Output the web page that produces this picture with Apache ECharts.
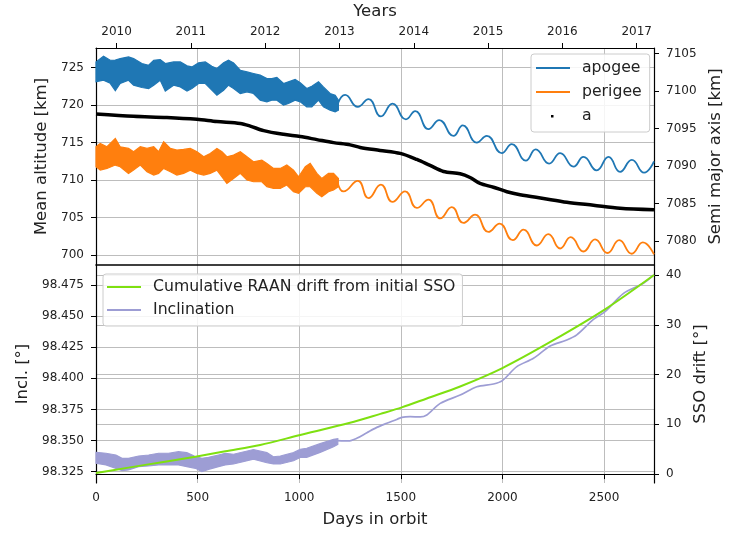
<!DOCTYPE html>
<html><head><meta charset="utf-8">
<script src="https://cdn.jsdelivr.net/npm/echarts@6.0.0/dist/echarts.min.js"></script>
<style>html,body{margin:0;padding:0;background:#fff}#c{width:735px;height:533px}</style>
</head><body><div id="c"></div>
<script>
// ---- tick labels ----
const yearTicks = [2010, 2011, 2012, 2013, 2014, 2015, 2016, 2017];
const altTicks = [700, 705, 710, 715, 720, 725];
const smaTicks = [7080, 7085, 7090, 7095, 7100, 7105];
const inclTicks = [98.325, 98.35, 98.375, 98.4, 98.425, 98.45, 98.475];
const ssoTicks = [0, 10, 20, 30, 40];

// ---- apogee: noisy band (days 0-1193) then smooth oscillation ----
const apoNoisyDays = [0,37,70,95,119,160,185,226,259,284,316,341,382,415,448,472,505,538,570,595,628,652,677,710,743,775,808,841,865,890,923,947,980,1005,1037,1062,1095,1119,1152,1177,1193];
const apoNoisyHigh = [725.75,726.5,725.97,726.0,726.19,726.41,726.19,725.53,725.3,725.97,726.06,725.53,725.75,725.75,725.22,725.08,725.62,725.75,725.17,724.86,725.62,725.97,725.62,724.64,724.42,724.2,723.98,723.53,723.53,723.67,722.87,723.09,723.4,722.96,722.2,722.51,723.09,722.42,721.54,721.32,720.65];
const apoNoisyLow = [723.09,723.31,722.9,721.9,722.87,723.31,722.65,722.34,722.2,722.65,723.31,721.87,722.65,722.42,721.87,722.2,722.87,722.87,721.98,721.32,721.98,722.65,722.2,721.54,721.76,721.54,720.65,720.43,720.65,720.65,719.99,720.21,720.65,720.43,719.77,719.77,720.65,719.77,719.32,719.1,719.32];
const apoDays = [1190,1226,1288,1341,1402,1459,1525,1571,1636,1689,1759,1805,1874,1923,1997,2046,2115,2164,2230,2284,2350,2399,2464,2522,2579,2637,2697,2746];
const apoVals = [720.2,721.35,719.75,720.8,718.5,720.2,718.1,719.2,716.8,718.0,715.9,717.3,715.0,715.9,713.6,714.8,712.6,714.1,712.2,713.6,711.8,713.1,711.3,713.1,711.1,712.7,711.0,712.5];

// ---- perigee ----
const periNoisyDays = [0,21,54,95,119,160,185,218,251,284,308,333,366,398,431,464,497,530,562,595,620,644,677,710,743,775,816,841,874,907,939,972,997,1030,1054,1087,1111,1144,1169,1193];
const periNoisyHigh = [714.45,714.89,714.45,715.56,714.45,714.23,713.78,714.45,714.23,714.45,713.78,715.11,714.23,714.0,714.09,714.23,713.78,713.12,713.56,714.23,713.78,713.12,713.34,713.78,713.12,712.45,712.67,712.23,711.56,711.56,712.01,711.34,710.45,711.79,712.23,710.9,710.23,710.9,710.9,710.23];
const periNoisyLow = [711.79,711.34,711.56,712.01,711.79,710.9,711.34,712.01,711.12,710.68,710.9,711.56,711.12,710.68,710.9,711.34,710.9,710.68,710.9,711.34,710.45,709.57,710.23,710.9,710.01,709.79,709.79,709.12,708.9,708.9,709.35,708.46,708.24,709.12,709.12,708.24,707.8,708.46,708.68,709.12];
const periDays = [1190,1218,1288,1341,1402,1459,1521,1579,1636,1694,1751,1808,1866,1931,1986,2051,2104,2169,2226,2284,2336,2399,2456,2517,2575,2636,2691,2746];
const periVals = [709.6,708.5,709.9,707.6,709.4,707.1,708.5,706.3,707.4,704.9,706.4,704.3,705.4,703.1,704.2,702.0,703.4,701.3,702.8,700.9,702.4,700.5,702.1,700.3,702.0,700.2,701.7,700.1];

// ---- semi major axis a [km] ----
const smaDays = [0,185,349,497,595,710,759,825,923,1005,1087,1169,1251,1300,1398,1497,1579,1644,1710,1792,1841,1890,1956,2022,2087,2202,2317,2448,2579,2746];
const smaVals = [7096.94,7096.64,7096.49,7096.24,7095.94,7095.69,7095.34,7094.74,7094.24,7093.94,7093.54,7093.14,7092.84,7092.5,7092.1,7091.7,7090.9,7090.1,7089.3,7089.0,7088.5,7087.7,7087.2,7086.6,7086.2,7085.7,7085.2,7084.8,7084.4,7084.2];

// ---- cumulative RAAN drift [deg] ----
const raanDays = [0,160,324,489,636,808,1000,1250,1400,1505,1628,1792,2000,2251,2505,2746];
const raanVals = [0.2,1.3,2.4,3.5,4.6,5.85,7.8,10.3,12.1,13.4,15.2,17.6,21.3,26.9,33.1,40.0];

// ---- inclination [deg] ----
const inclNoisyDays = [0,49,98,128,160,210,259,308,357,406,447,489,521,554,603,636,677,775,841,873,907,972,1005,1037,1103,1169,1190];
const inclNoisyHigh = [98.3406,98.3398,98.3384,98.3357,98.3357,98.3376,98.3384,98.3398,98.3398,98.3411,98.3403,98.3371,98.3357,98.3365,98.3384,98.3398,98.339,98.3428,98.3403,98.337,98.3376,98.3403,98.343,98.3438,98.3475,98.351,98.3515];
const inclNoisyLow = [98.3317,98.3304,98.3277,98.3258,98.3264,98.329,98.3296,98.3304,98.3304,98.3304,98.329,98.3277,98.325,98.3269,98.329,98.3304,98.3312,98.335,98.3322,98.3312,98.3312,98.3338,98.3365,98.3365,98.3405,98.345,98.347];
const inclDays = [1190,1242,1283,1333,1382,1431,1480,1505,1546,1595,1628,1694,1792,1874,1956,2000,2071,2153,2235,2317,2366,2448,2505,2596,2694,2746];
const inclVals = [98.35,98.3497,98.3518,98.3563,98.3606,98.3639,98.367,98.3687,98.3692,98.369,98.3706,98.3799,98.3866,98.3933,98.3955,98.3982,98.4094,98.4161,98.426,98.4308,98.4349,98.4474,98.4536,98.4683,98.4764,98.4831];

const zip = (xs, ys) => xs.map((x, i) => [x, ys[i]]);
const FONT = 'DejaVu Sans';
const INK = '#222';
const GRIDC = '#bdbdbd';
const LINE_ICON = 'path://M0 0M34 14M0 6H34V8H0Z';
const DOT_ICON = 'path://M0 0M34 14M15 6h2.5v2.5h-2.5z';
const plain = v => String(Math.round(v * 1000) / 1000);

function band(name, days, hi, lo, color, xi, yi, z) {
  return {
    type: 'custom', name: name, xAxisIndex: xi, yAxisIndex: yi, z: z, silent: true,
    data: [[days[0], hi[0]]],
    renderItem: function (params, api) {
      const pts = [];
      for (let i = 0; i < days.length; i++) pts.push(api.coord([days[i], hi[i]]));
      for (let i = days.length - 1; i >= 0; i--) pts.push(api.coord([days[i], lo[i]]));
      return { type: 'polygon', shape: { points: pts },
        style: { fill: color, stroke: color, lineWidth: 1.2, lineJoin: 'miter' } };
    }
  };
}

function lineS(name, data, color, width, xi, yi, z, smooth) {
  return { type: 'line', name: name, data: data, xAxisIndex: xi, yAxisIndex: yi, z: z,
    symbol: 'none', smooth: smooth, color: color, itemStyle: { color: color },
    lineStyle: { color: color, width: width }, silent: true };
}

const tickStyle = { show: true, length: 5, lineStyle: { color: '#000', width: 1 } };
const lineStyleAxis = { show: true, lineStyle: { color: '#000', width: 1.2 } };
const labelStyle = { color: INK, fontSize: 12, fontFamily: FONT, formatter: plain };
const nameStyle = { color: INK, fontSize: 16.5, fontFamily: FONT };
const legendText = { color: INK, fontSize: 15.7, fontFamily: FONT, padding: [0, 0, 0, 7] };

const chart = echarts.init(document.getElementById('c'), null, { renderer: 'canvas' });
chart.setOption({
  animation: false,
  backgroundColor: '#fff',
  grid: [
    { left: 96, top: 48, width: 558, height: 217 },
    { left: 96, top: 265, width: 558, height: 218 }
  ],
  xAxis: [
    { type: 'value', gridIndex: 0, min: 0, max: 2746, interval: 500, position: 'bottom',
      axisLine: { show: true, lineStyle: { color: '#000', width: 1.6 } }, axisTick: { show: false }, axisLabel: { show: false },
      splitLine: { show: true, lineStyle: { color: GRIDC, width: 1 } } },
    { type: 'value', gridIndex: 0, min: 2009.723, max: 2017.233, position: 'top',
      name: 'Years', nameLocation: 'middle', nameGap: 28, nameTextStyle: nameStyle,
      axisLine: lineStyleAxis,
      axisTick: Object.assign({ customValues: yearTicks }, tickStyle),
      axisLabel: Object.assign({}, labelStyle, { customValues: yearTicks, margin: 10, formatter: v => String(Math.round(v)) }),
      splitLine: { show: false } },
    { type: 'value', gridIndex: 1, min: 0, max: 2746, interval: 500, position: 'bottom',
      name: 'Days in orbit', nameLocation: 'middle', nameGap: 28, nameTextStyle: nameStyle,
      axisLine: lineStyleAxis, axisTick: tickStyle,
      axisLabel: Object.assign({}, labelStyle, { margin: 9, showMaxLabel: false }),
      splitLine: { show: true, lineStyle: { color: GRIDC, width: 1 } } }
  ],
  yAxis: [
    { type: 'value', gridIndex: 0, position: 'left', min: 698.7, max: 727.6,
      name: 'Mean altitude [km]', nameLocation: 'middle', nameGap: 44, nameTextStyle: nameStyle,
      axisLine: lineStyleAxis,
      axisTick: Object.assign({ customValues: altTicks }, tickStyle),
      axisLabel: Object.assign({}, labelStyle, { customValues: altTicks, margin: 12 }),
      splitLine: { show: true, lineStyle: { color: GRIDC, width: 1 } } },
    { type: 'value', gridIndex: 0, position: 'right', min: 7076.84, max: 7105.74,
      name: 'Semi major axis [km]', nameLocation: 'middle', nameGap: 46, nameTextStyle: nameStyle,
      axisLine: lineStyleAxis,
      axisTick: Object.assign({ customValues: smaTicks }, tickStyle),
      axisLabel: Object.assign({}, labelStyle, { customValues: smaTicks, margin: 12 }),
      splitLine: { show: false } },
    { type: 'value', gridIndex: 1, position: 'left', min: 98.3159, max: 98.4911,
      name: 'Incl. [°]', nameLocation: 'middle', nameGap: 65, nameTextStyle: nameStyle,
      axisLine: lineStyleAxis,
      axisTick: Object.assign({ customValues: inclTicks }, tickStyle),
      axisLabel: Object.assign({}, labelStyle, { customValues: inclTicks, margin: 12, formatter: v => v.toFixed(3) }),
      splitLine: { show: true, lineStyle: { color: GRIDC, width: 1 } } },
    { type: 'value', gridIndex: 1, position: 'right', min: -1.79, max: 42.01,
      name: 'SSO drift [°]', nameLocation: 'middle', nameGap: 31, nameTextStyle: nameStyle,
      axisLine: lineStyleAxis,
      axisTick: Object.assign({ customValues: ssoTicks }, tickStyle),
      axisLabel: Object.assign({}, labelStyle, { customValues: ssoTicks, margin: 12 }),
      splitLine: { show: true, lineStyle: { color: GRIDC, width: 1 } } }
  ],
  legend: [
    { orient: 'vertical', left: 531, top: 54, padding: [6, 8, 8, 5], itemGap: 8,
      itemWidth: 34, itemHeight: 14,
      backgroundColor: 'rgba(255,255,255,0.85)', borderColor: '#ccc', borderWidth: 1, borderRadius: 3,
      textStyle: legendText,
      data: [
        { name: 'apogee', icon: LINE_ICON },
        { name: 'perigee', icon: LINE_ICON },
        { name: 'a', icon: DOT_ICON }
      ] },
    { orient: 'vertical', left: 103, top: 274, padding: [5, 7, 8, 4], itemGap: 7,
      itemWidth: 34, itemHeight: 14,
      backgroundColor: 'rgba(255,255,255,0.85)', borderColor: '#ccc', borderWidth: 1, borderRadius: 3,
      textStyle: legendText,
      data: [
        { name: 'Cumulative RAAN drift from initial SSO', icon: LINE_ICON },
        { name: 'Inclination', icon: LINE_ICON }
      ] }
  ],
  series: [
    lineS('apogee', zip(apoDays, apoVals), '#1f77b4', 1.8, 0, 0, 2, 0.5),
    band('apogee_noise', apoNoisyDays, apoNoisyHigh, apoNoisyLow, '#1f77b4', 0, 0, 2),
    lineS('perigee', zip(periDays, periVals), '#ff7f0e', 1.8, 0, 0, 2, 0.5),
    band('perigee_noise', periNoisyDays, periNoisyHigh, periNoisyLow, '#ff7f0e', 0, 0, 2),
    lineS('a', zip(smaDays, smaVals), '#000000', 3.5, 0, 1, 3, 0.3),
    lineS('Inclination', zip(inclDays, inclVals), '#9d9dd4', 1.7, 2, 2, 2, 0.3),
    band('incl_noise', inclNoisyDays, inclNoisyHigh, inclNoisyLow, '#9d9dd4', 2, 2, 2),
    lineS('Cumulative RAAN drift from initial SSO', zip(raanDays, raanVals), '#7ee010', 2, 2, 3, 3, 0.3)
  ]
});
</script>
</body></html>
